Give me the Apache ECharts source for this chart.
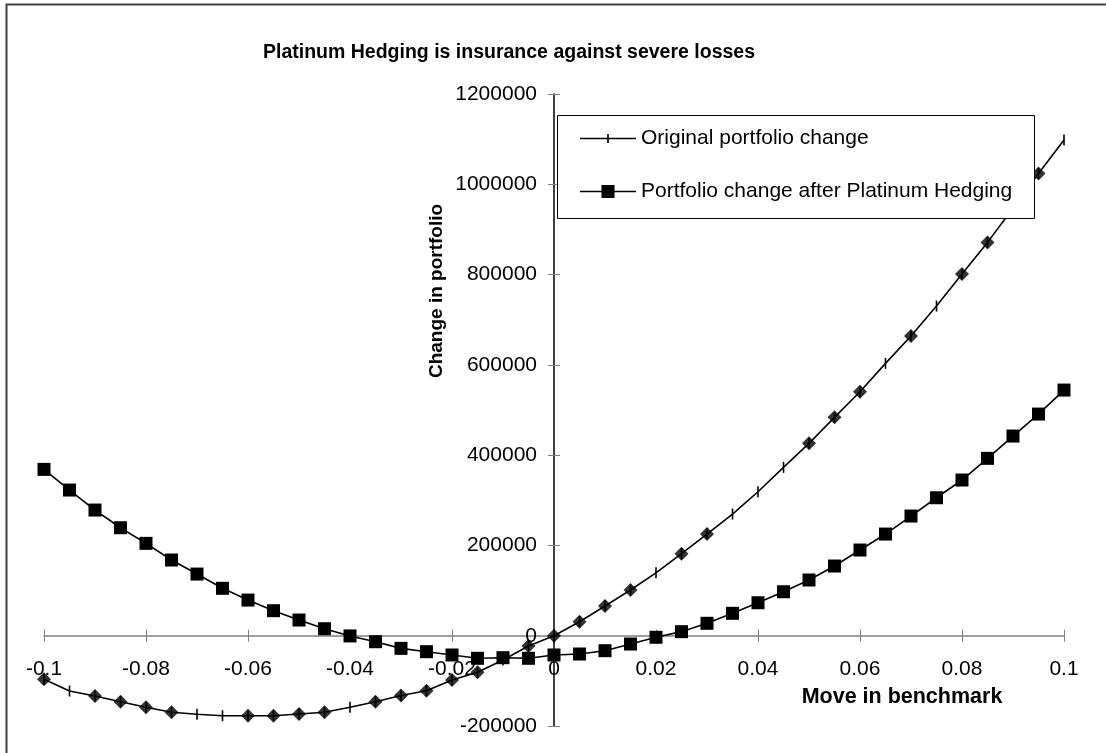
<!DOCTYPE html>
<html>
<head>
<meta charset="utf-8">
<script src="https://cdn.jsdelivr.net/npm/echarts@6/dist/echarts.min.js"></script>
<style>
html,body{margin:0;padding:0;background:#fff;}
#chart{width:1106px;height:753px;}
</style>
</head>
<body>
<div id="chart"></div>
<script>
const titleText = 'Platinum Hedging is insurance against severe losses';
const xName = 'Move in benchmark';
const yName = 'Change in portfolio';
const seriesNames = ['Original portfolio change', 'Portfolio change after Platinum Hedging'];

const xValues = [-0.1,-0.095,-0.09,-0.085,-0.08,-0.075,-0.07,-0.065,-0.06,-0.055,-0.05,-0.045,-0.04,-0.035,-0.03,-0.025,-0.02,-0.015,-0.01,-0.005,0,0.005,0.01,0.015,0.02,0.025,0.03,0.035,0.04,0.045,0.05,0.055,0.06,0.065,0.07,0.075,0.08,0.085,0.09,0.095,0.1];

const original = [-96600,-122500,-133600,-146200,-158600,-169700,-174100,-177200,-177200,-177200,-173400,-169700,-158600,-146200,-132500,-121800,-98100,-81100,-53800,-22800,0,31000,65800,101200,139300,181700,225200,269500,318900,373000,426100,483700,540400,603300,663800,730200,801100,871300,947000,1024100,1097900];

const diamondPoints = [-96600,null,-133600,-146200,-158600,-169700,null,null,-177200,-177200,-173400,-169700,null,-146200,-132500,-121800,-98100,-81100,null,-22800,0,31000,65800,101200,null,181700,225200,null,null,null,426100,483700,540400,null,663800,null,801100,871300,null,1024100,null];

const hedged = [368500,322700,278400,239200,204600,167700,136600,105000,79000,55400,34800,15500,-500,-13300,-28000,-35400,-42700,-50000,-48700,-50000,-42700,-40500,-33200,-18400,-3500,9000,27500,49600,73000,97400,123400,154400,189800,225200,265100,305600,344900,392900,442300,491000,544200];

const xTicks = [-0.1,-0.08,-0.06,-0.04,-0.02,0,0.02,0.04,0.06,0.08,0.1];
const yTicks = [-200000,0,200000,400000,600000,800000,1000000,1200000];

const FONT = '"Liberation Sans", Arial, sans-serif';
const pair = (ys) => xValues.map((x, i) => [x, ys[i]]);

const GRID = {left: 44, top: 94, width: 1020, height: 632};
const xMin = xTicks[0], xMax = xTicks[xTicks.length - 1];
const yMin = yTicks[0], yMax = yTicks[yTicks.length - 1];
// axes cross at zero: offset the axes from the grid edges to the zero lines
const xAxisOffset = -GRID.height * (0 - yMin) / (yMax - yMin);
const yAxisOffset = -GRID.width * (0 - xMin) / (xMax - xMin);

const chart = echarts.init(document.getElementById('chart'), null, {renderer: 'canvas'});

const xBase = {
  type: 'value', gridIndex: 0,
  min: xMin, max: xMax, interval: xTicks[1] - xTicks[0],
  splitLine: {show: false}, position: 'bottom', offset: xAxisOffset
};
const yBase = {
  type: 'value', gridIndex: 0,
  min: yMin, max: yMax, interval: yTicks[1] - yTicks[0],
  splitLine: {show: false}, position: 'left', offset: yAxisOffset
};

const option = {
  animation: false,
  backgroundColor: '#ffffff',
  grid: Object.assign({containLabel: false, outerBoundsMode: 'none'}, GRID),
  xAxis: [
    Object.assign({}, xBase, {
      axisLine: {show: true, onZero: false, lineStyle: {color: '#808080', width: 1.5}},
      axisTick: {show: true, inside: false, length: 6, lineStyle: {color: '#808080', width: 1}},
      axisLabel: {show: true, margin: 23, color: '#000', fontSize: 21, fontFamily: FONT,
        formatter: (v) => String(+v.toFixed(3))}
    }),
    Object.assign({}, xBase, {
      axisLine: {show: false, onZero: false},
      axisTick: {show: true, inside: true, length: 6, lineStyle: {color: '#808080', width: 1}},
      axisLabel: {show: false}
    })
  ],
  yAxis: [
    Object.assign({}, yBase, {
      axisLine: {show: true, onZero: false, lineStyle: {color: '#000', width: 1.5}},
      axisTick: {show: true, inside: false, length: 6, lineStyle: {color: '#808080', width: 1}},
      axisLabel: {show: true, margin: 17, color: '#000', fontSize: 21, fontFamily: FONT,
        formatter: (v) => String(v)}
    }),
    Object.assign({}, yBase, {
      axisLine: {show: false, onZero: false},
      axisTick: {show: true, inside: true, length: 6, lineStyle: {color: '#808080', width: 1}},
      axisLabel: {show: false}
    })
  ],
  legend: {
    z: 120,
    orient: 'vertical',
    left: 580, top: 128,
    padding: 0,
    itemGap: 32,
    itemWidth: 56, itemHeight: 13,
    textStyle: {fontSize: 21, fontFamily: FONT, color: '#000', lineHeight: 20},
    data: [
      {name: seriesNames[0], icon: 'path://M0,5.75 h56 v1.5 h-56 Z M27.2,2 h1.6 v9 h-1.6 Z', itemStyle: {color: '#000'}},
      {name: seriesNames[1], icon: 'path://M0,5.75 h21.5 v-5.75 h13 v5.75 h21.5 v1.5 h-21.5 v5.75 h-13 v-5.75 h-21.5 Z', itemStyle: {color: '#000'}}
    ],
    selectedMode: false
  },
  graphic: [
    {type: 'rect', z: 100, shape: {x: 6.5, y: 4.5, width: 1300, height: 900},
      style: {fill: 'none', stroke: '#404040', lineWidth: 2}},
    {type: 'rect', z: 110, shape: {x: 557.5, y: 115.5, width: 477, height: 103},
      style: {fill: '#fff', stroke: '#000', lineWidth: 1}},
    {type: 'text', z: 110, x: 509, y: 53,
      style: {text: titleText, font: 'bold 19.5px ' + FONT, fill: '#000', textAlign: 'center', textVerticalAlign: 'middle'}},
    {type: 'text', z: 110, x: 902, y: 697,
      style: {text: xName, font: 'bold 21.5px ' + FONT, fill: '#000', textAlign: 'center', textVerticalAlign: 'middle'}},
    {type: 'text', z: 110, x: 437, y: 291, rotation: Math.PI / 2,
      style: {text: yName, font: 'bold 19px ' + FONT, fill: '#000', textAlign: 'center', textVerticalAlign: 'middle'}}
  ],
  series: [
    {
      name: seriesNames[0], type: 'line', xAxisIndex: 0, yAxisIndex: 0,
      data: pair(original),
      symbol: 'rect', symbolSize: [1.6, 11],
      itemStyle: {color: '#000'},
      lineStyle: {color: '#000', width: 1.6},
      z: 3
    },
    {
      name: seriesNames[1], type: 'line', xAxisIndex: 0, yAxisIndex: 0,
      data: pair(hedged),
      symbol: 'rect', symbolSize: 13,
      itemStyle: {color: '#000'},
      lineStyle: {color: '#000', width: 1.6},
      z: 4
    },
    {
      name: 'points', type: 'scatter', xAxisIndex: 0, yAxisIndex: 0,
      data: pair(diamondPoints).filter(p => p[1] !== null),
      symbol: 'diamond', symbolSize: 14,
      itemStyle: {color: '#000'},
      z: 5
    }
  ]
};
chart.setOption(option);
</script>
</body>
</html>
